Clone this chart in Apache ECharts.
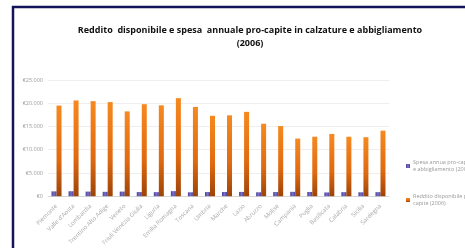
<!DOCTYPE html>
<html>
<head>
<meta charset="utf-8">
<script src="https://cdn.jsdelivr.net/npm/echarts@6/dist/echarts.min.js"></script>
<style>
  html, body { margin: 0; padding: 0; background: #fff; }
  #main { width: 465px; height: 248px; }
</style>
</head>
<body>
<div id="main"></div>
<script>
// regioni (ordine ISTAT)
let regioni = ['Piemonte', "Valle d'Aosta", 'Lombardia', 'Trentino Alto Adige', 'Veneto',
    'Friuli Venezia Giulia', 'Liguria', 'Emilia Romagna', 'Toscana', 'Umbria', 'Marche',
    'Lazio', 'Abruzzo', 'Molise', 'Campania', 'Puglia', 'Basilicata', 'Calabria',
    'Sicilia', 'Sardegna'];

// spesa annua pro-capite in calzature e abbigliamento
let spesa = [1050, 1080, 1000, 950, 1000, 900, 880, 1100, 850, 900, 920,
    930, 850, 900, 950, 920, 820, 880, 850, 880];

// reddito disponibile pro-capite
let reddito = [19500, 20600, 20450, 20250, 18250, 19800, 19550, 21100, 19200, 17300, 17400,
    18150, 15600, 15100, 12400, 12800, 13400, 12800, 12700, 14100];

let nomeSpesa = 'Spesa annua pro-capite in calzature\ne abbigliamento (2006)';
let nomeReddito = 'Reddito disponibile pro-\ncapite (2006)';

let yMax = 25000;
let yStep = 5000;

let myChart = echarts.init(document.getElementById('main'), null, { renderer: 'canvas' });

let euro = function(v) {
    if (v === 0) {
        return '€0';
    }
    return '€' + String(v).replace(/\B(?=(\d{3})+(?!\d))/g, '.');
};

let options = {
    animation: false,
    textStyle: { fontFamily: 'Open Sans' },
    title: {
        text: 'Reddito  disponibile e spesa  annuale pro-capite in calzature e abbigliamento\n(2006)',
        left: 245,
        textAlign: 'center',
        top: 19,
        textStyle: {
            fontFamily: 'Open Sans',
            fontSize: 9,
            fontWeight: 'bold',
            color: '#111',
            lineHeight: 13
        }
    },
    graphic: [
        {
            type: 'line',
            shape: { x1: 12, y1: 7, x2: 465, y2: 7 },
            style: { stroke: '#14145a', lineWidth: 2.5 }
        },
        {
            type: 'line',
            shape: { x1: 13, y1: 6, x2: 13, y2: 248 },
            style: { stroke: '#14145a', lineWidth: 2.5 }
        }
    ],
    legend: {
        orient: 'vertical',
        left: 401,
        top: 154,
        itemWidth: 4,
        itemHeight: 4,
        itemGap: 20,
        icon: 'rect',
        textStyle: { fontSize: 5.5, color: '#999', lineHeight: 7, padding: [0, 0, 0, -2] },
        data: [nomeSpesa, nomeReddito]
    },
    grid: {
        left: 48,
        right: 76,
        top: 80,
        bottom: 50
    },
    xAxis: {
        type: 'category',
        data: regioni,
        axisLine: { lineStyle: { color: '#d8d8d8' } },
        axisTick: { show: false },
        axisLabel: {
            rotate: 45,
            interval: 0,
            fontSize: 6,
            color: '#aaa',
            margin: 9
        }
    },
    yAxis: {
        type: 'value',
        min: 0,
        max: yMax,
        interval: yStep,
        axisLine: { show: false },
        axisTick: { show: false },
        splitLine: { lineStyle: { color: '#eeeeee' } },
        axisLabel: {
            fontSize: 5.5,
            color: '#999',
            margin: 5,
            formatter: euro
        }
    },
    series: [
        {
            name: nomeSpesa,
            type: 'bar',
            data: spesa,
            barWidth: 5,
            barGap: '0%',
            itemStyle: {
                color: new echarts.graphic.LinearGradient(0, 0, 1, 0, [
                    { offset: 0, color: '#4a4296' },
                    { offset: 0.5, color: '#7a70c8' },
                    { offset: 1, color: '#4a4296' }
                ])
            }
        },
        {
            name: nomeReddito,
            type: 'bar',
            data: reddito,
            barWidth: 5,
            itemStyle: {
                color: new echarts.graphic.LinearGradient(0, 0, 0, 1, [
                    { offset: 0, color: '#f6891f' },
                    { offset: 0.6, color: '#e06a10' },
                    { offset: 1, color: '#9c4308' }
                ])
            }
        }
    ]
};

myChart.setOption(options);
</script>
</body>
</html>
